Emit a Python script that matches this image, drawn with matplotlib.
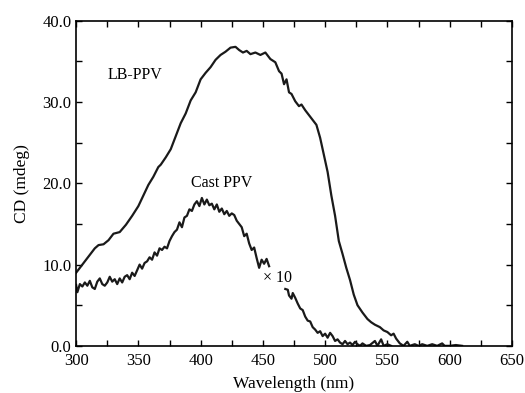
import matplotlib
matplotlib.use("Agg")
import matplotlib.pyplot as plt
from matplotlib.ticker import MultipleLocator, FormatStrFormatter

plt.rcParams["font.family"] = ["Liberation Serif", "DejaVu Serif"]

# LB-PPV spectrum
lb_wl = [300, 305, 310, 315, 318, 322, 326, 330, 335, 340, 345, 350, 354, 358,
         362, 366, 368, 372, 376, 380, 384, 388, 392, 396, 400, 404, 408, 412,
         416, 420, 424, 428, 431, 434, 437, 440, 444, 448, 452, 456, 460, 463,
         465, 467, 469, 471, 473, 476, 479, 481, 484, 487, 490, 493, 496, 499,
         502, 505, 508, 511, 514, 517, 520, 523, 526, 530, 534, 537, 540, 544,
         547, 550, 553, 555, 557, 560, 563, 566, 568, 572, 575, 578, 582, 586,
         590, 594, 596, 600, 605, 610]
lb_cd = [9.0, 10.0, 11.0, 12.0, 12.4, 12.5, 13.0, 13.8, 14.0, 14.9, 16.0, 17.2,
         18.5, 19.8, 20.8, 22.0, 22.3, 23.2, 24.2, 25.8, 27.4, 28.6, 30.2, 31.2,
         32.8, 33.6, 34.3, 35.2, 35.8, 36.2, 36.7, 36.8, 36.4, 36.1, 36.3, 35.9,
         36.1, 35.8, 36.1, 35.3, 34.9, 33.8, 33.5, 32.2, 32.8, 31.2, 31.0, 30.1,
         29.5, 29.7, 29.0, 28.4, 27.8, 27.2, 25.6, 23.5, 21.4, 18.5, 16.0, 12.9,
         11.3, 9.6, 8.1, 6.3, 5.0, 4.1, 3.3, 2.9, 2.6, 2.3, 1.9, 1.7, 1.3, 1.5,
         0.9, 0.3, 0.0, 0.5, 0.0, 0.2, 0.0, 0.2, 0.0, 0.2, 0.0, 0.3, 0.0, 0.0,
         0.1, 0.0]

# Cast PPV spectrum (x 10), two segments with a gap
cast_wl1 = [300, 301, 303, 305, 307, 309, 311, 313, 315, 317, 319, 321, 323,
            325, 327, 329, 331, 333, 335, 337, 339, 341, 343, 345, 347, 349,
            351, 353, 355, 357, 359, 361, 363, 365, 367, 369, 371, 373, 375,
            377, 379, 381, 383, 385, 387, 389, 391, 393, 395, 397, 399, 401,
            403, 405, 407, 409, 411, 413, 415, 417, 419, 421, 423, 425, 427,
            429, 431, 433, 435, 437, 439, 441, 443, 445, 447, 449, 451, 453,
            455]
cast_cd1 = [7.5, 6.6, 7.6, 7.3, 7.8, 7.4, 8.0, 7.2, 7.0, 7.9, 8.3, 7.6, 7.4,
            7.8, 8.5, 7.9, 8.2, 7.6, 8.3, 7.8, 8.5, 8.7, 8.2, 9.0, 8.6, 9.3,
            10.0, 9.5, 10.2, 10.4, 10.9, 10.6, 11.5, 11.1, 12.0, 11.8, 12.2,
            12.0, 12.9, 13.5, 14.0, 14.3, 15.2, 14.6, 15.8, 16.0, 16.8, 16.6,
            17.4, 17.8, 17.2, 18.2, 17.4, 18.0, 17.3, 17.5, 16.8, 17.4, 16.5,
            16.9, 16.2, 16.6, 16.0, 16.3, 16.1, 15.4, 15.0, 14.6, 13.5, 13.8,
            12.6, 11.8, 12.1, 10.8, 9.6, 10.6, 10.1, 10.7, 9.8]
cast_wl2 = [468, 470, 471, 473, 474, 476, 478, 480, 482, 484, 486, 488, 490,
            492, 494, 496, 498, 500, 502, 504, 506, 508, 510, 512, 514, 516,
            518, 520, 522, 524, 526, 528, 530, 533, 536, 540, 542, 545, 547,
            550, 553]
cast_cd2 = [7.0, 6.9, 6.2, 5.8, 6.5, 5.9, 5.2, 4.6, 4.4, 3.6, 3.1, 3.0, 2.3,
            2.0, 1.6, 1.8, 1.2, 1.5, 1.0, 1.6, 1.2, 0.6, 0.8, 0.4, 0.2, 0.6,
            0.2, 0.4, 0.1, 0.5, 0.2, 0.0, 0.3, 0.0, 0.1, 0.6, 0.0, 0.8, 0.0,
            0.2, 0.0]

fig = plt.figure(figsize=(5.25, 3.93), dpi=100)
ax = fig.add_axes([0.145, 0.120, 0.830, 0.827])

line_kw = dict(color="#1a1a1a", lw=1.6)
ax.plot(lb_wl, lb_cd, **line_kw)
ax.plot(cast_wl1, cast_cd1, **line_kw)
ax.plot(cast_wl2, cast_cd2, **line_kw)

ax.set_xlim(300, 650)
ax.set_ylim(0, 40)
ax.xaxis.set_major_locator(MultipleLocator(50))
ax.xaxis.set_minor_locator(MultipleLocator(25))
ax.yaxis.set_major_locator(MultipleLocator(10))
ax.yaxis.set_minor_locator(MultipleLocator(5))
ax.yaxis.set_major_formatter(FormatStrFormatter("%.1f"))
ax.tick_params(which="both", direction="in", top=True, right=True,
               length=4, width=1, labelsize=12)
ax.tick_params(axis="x", pad=5)
for s in ax.spines.values():
    s.set_linewidth(1.2)

ax.set_xlabel("Wavelength (nm)", fontsize=12.5, labelpad=5)
ax.set_ylabel("CD (mdeg)", fontsize=12.5, labelpad=9)

ax.text(347, 33.3, "LB-PPV", fontsize=11.5, ha="center", va="center")
ax.text(416.5, 20.0, "Cast PPV", fontsize=11.5, ha="center", va="center")
ax.text(450, 8.3, "× 10", fontsize=11.5, ha="left", va="center")

fig.savefig("out.png", dpi=100)
